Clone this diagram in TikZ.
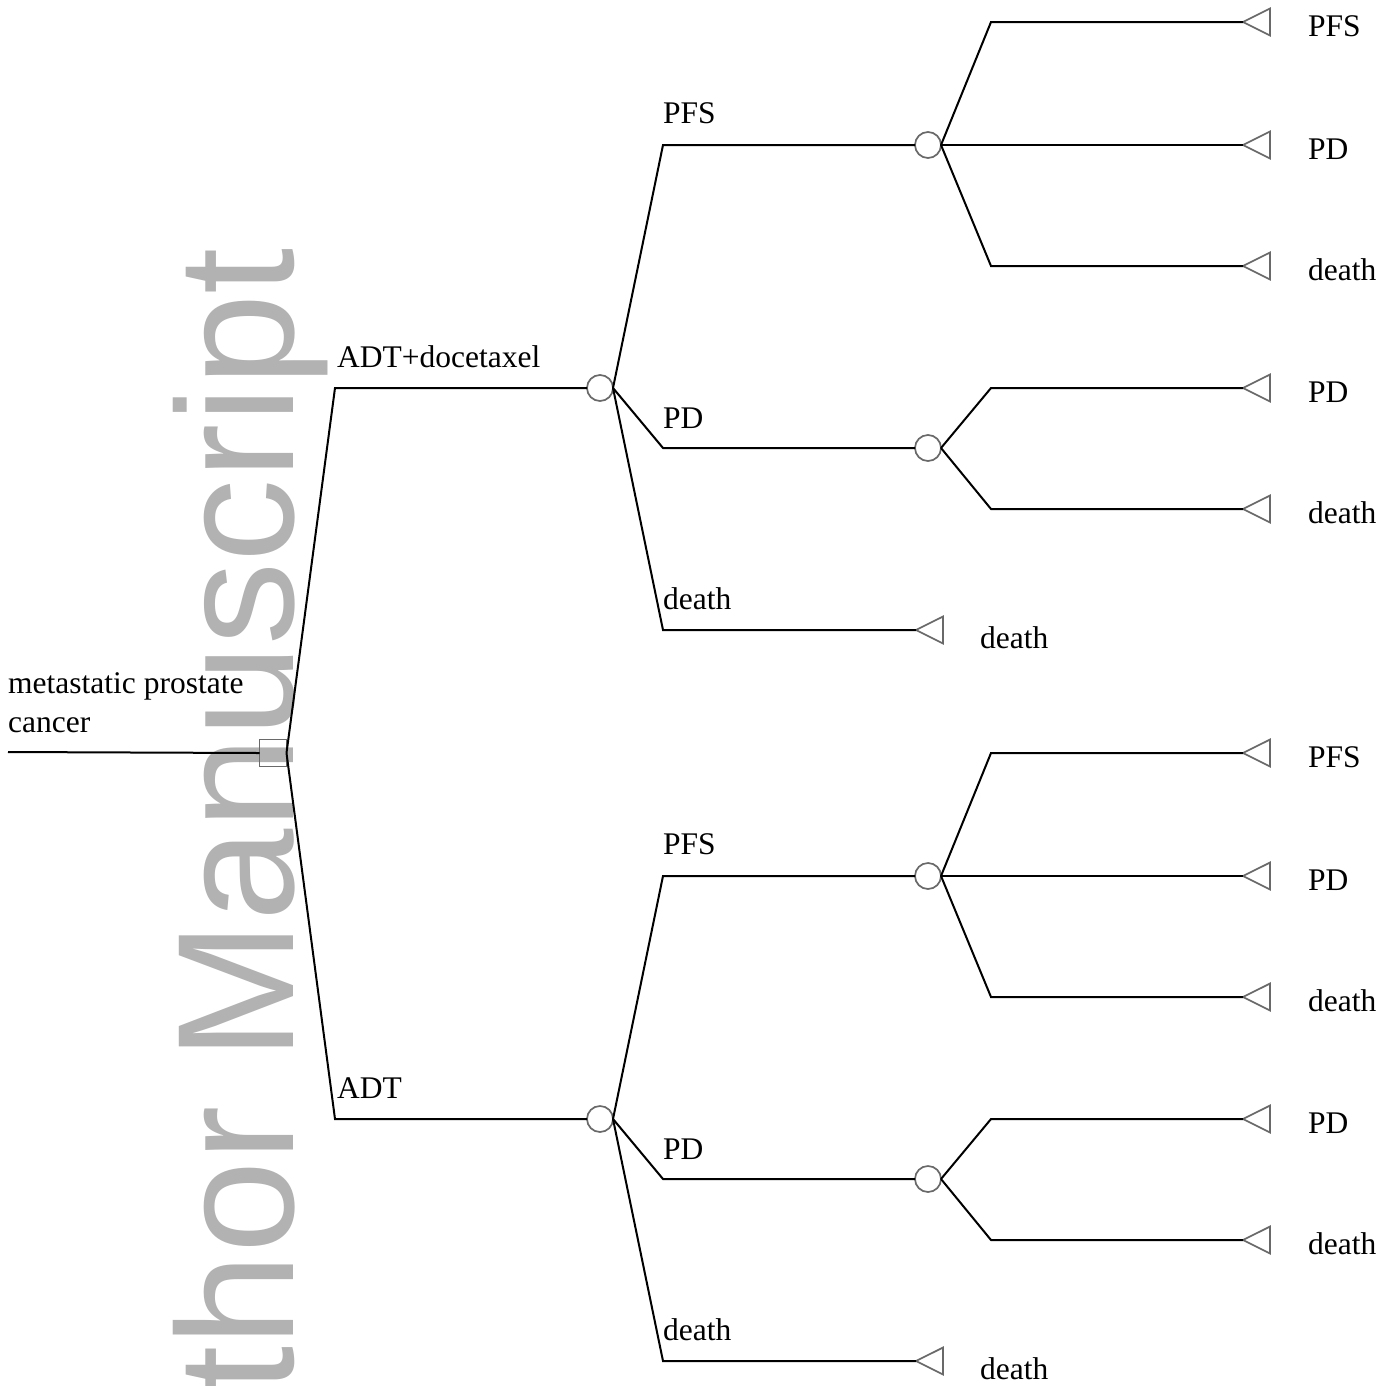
\documentclass[tikz,border=0pt]{standalone}
\usepackage{fontspec}
\setmainfont{Liberation Serif}
\newfontfamily\wmfont{Liberation Sans}
\usetikzlibrary{shapes.geometric}
\definecolor{wmgray}{RGB}{178,178,178}
\definecolor{symgray}{RGB}{105,105,105}
\tikzset{
  branch/.style={draw=black, line width=2pt},
  chance/.style={circle, draw=symgray, line width=1.7pt, minimum size=26pt, inner sep=0pt, outer sep=0pt, fill=white},
  decision/.style={rectangle, draw=symgray, line width=1.5pt, minimum size=27pt, inner sep=0pt, outer sep=0pt},
  terminal/.style={isosceles triangle, isosceles triangle apex angle=53, shape border rotate=180, draw=symgray, line width=1.7pt, minimum height=27pt, minimum width=27pt, inner sep=0pt, outer sep=0pt, anchor=apex},
  lbl/.style={font=\fontsize{31.5}{36}\selectfont, inner sep=0pt, anchor=base west},
  wm/.style={font=\wmfont\fontsize{166}{166}\selectfont, text=wmgray, inner sep=0pt, rotate=90, anchor=base east},
}
\newcommand\treehalf[3]{%
  \coordinate (#1k) at (335,#2+388);
  \node[lbl] (#1lab) at (337,#2+367) {#3};
  \node[chance] (#1c) at (600,#2+388) {};
  \coordinate (#1pk) at (663,#2+145);
  \coordinate (#1dk) at (663,#2+448);
  \coordinate (#1xk) at (663,#2+630);
  \node[lbl] (#1plab) at (663,#2+123) {PFS};
  \node[lbl] (#1dlab) at (663,#2+428) {PD};
  \node[lbl] (#1xlab) at (663,#2+609) {death};
  \node[chance] (#1p) at (928,#2+145) {};
  \node[chance] (#1d) at (928,#2+448) {};
  \node[terminal] (#1xt) at (916,#2+630) {};
  \node[lbl] (#1xtl) at (980,#2+648) {death};
  \coordinate (#1pu) at (991,#2+22);
  \coordinate (#1pl) at (991,#2+266);
  \coordinate (#1du) at (991,#2+388);
  \coordinate (#1dl) at (991,#2+509);
  \node[terminal] (#1t1) at (1243,#2+22) {};
  \node[terminal] (#1t2) at (1243,#2+145) {};
  \node[terminal] (#1t3) at (1243,#2+266) {};
  \node[terminal] (#1t4) at (1243,#2+388) {};
  \node[terminal] (#1t5) at (1243,#2+509) {};
  \node[lbl] (#1l1) at (1308,#2+36) {PFS};
  \node[lbl] (#1l2) at (1308,#2+159) {PD};
  \node[lbl] (#1l3) at (1308,#2+280) {death};
  \node[lbl] (#1l4) at (1308,#2+402) {PD};
  \node[lbl] (#1l5) at (1308,#2+523) {death};
  \draw[branch] (sq.east) -- (#1k) -- (#1c.west);
  \draw[branch] (#1c.east) -- (#1pk) -- (#1p.west);
  \draw[branch] (#1c.east) -- (#1dk) -- (#1d.west);
  \draw[branch] (#1c.east) -- (#1xk) -- (#1xt.apex);
  \draw[branch] (#1p.east) -- (#1pu) -- (#1t1.apex);
  \draw[branch] (#1p.east) -- (#1t2.apex);
  \draw[branch] (#1p.east) -- (#1pl) -- (#1t3.apex);
  \draw[branch] (#1d.east) -- (#1du) -- (#1t4.apex);
  \draw[branch] (#1d.east) -- (#1dl) -- (#1t5.apex);
}
\begin{document}
\begin{tikzpicture}[x=1pt,y=-1pt]
  \useasboundingbox (0,0) rectangle (1392,1385);
  \clip (0,0) rectangle (1392,1385);
  \fill[white] (0,0) rectangle (1392,1385);
  \node[wm] (watermark) at (293,248) {thor Manuscript};
  \coordinate (root) at (8,752);
  \node[decision] (sq) at (273,753) {};
  \node[lbl] (rootlab1) at (8,693) {metastatic prostate};
  \node[lbl] (rootlab2) at (8,732) {cancer};
  \draw[branch] (root) -- (sq.west);
  \treehalf{A}{0}{ADT+docetaxel}
  \treehalf{B}{731}{ADT}
\end{tikzpicture}
\end{document}
